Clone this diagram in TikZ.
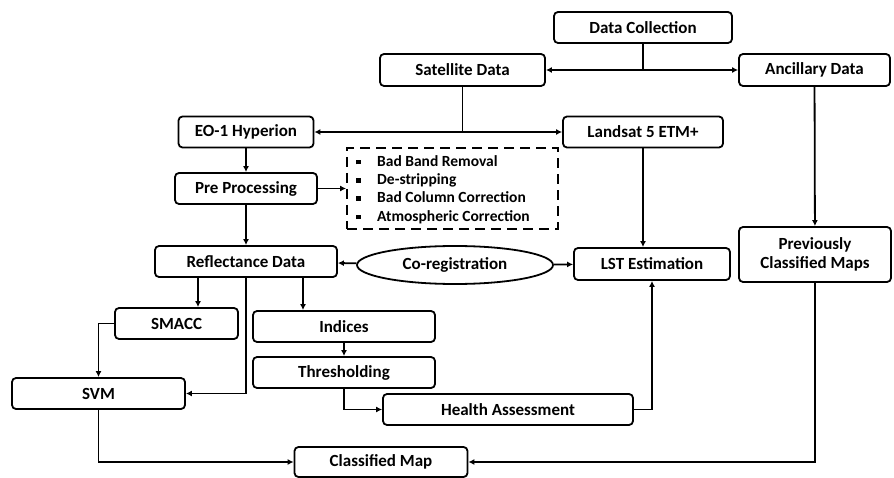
\documentclass[tikz,border=0pt]{standalone}
\usepackage{fontspec}
\setmainfont{Carlito}
\usepackage{tikz}
\usetikzlibrary{calc,positioning,arrows.meta,shapes.geometric}
\definecolor{flowline}{RGB}{0,0,0}

\begin{document}
\begin{tikzpicture}[x=1pt,y=-1pt,
    box/.style={draw=flowline,line width=1.8pt,rounded corners=4pt,inner sep=0pt,
      minimum height=31pt,font=\bfseries\fontsize{17}{19}\selectfont},
    link/.style={draw=flowline,line width=1.8pt,-{Latex[length=6pt,width=6pt]}},
    twoway/.style={link,{Latex[length=6pt,width=6pt]}-{Latex[length=6pt,width=6pt]}}]
        \useasboundingbox (0,0) rectangle (894,478);
        \node[box,minimum width=178pt] (dc) at (643,27.5) {Data Collection};
        \node[box,minimum width=165pt,minimum height=32pt] (sat) at (462.5,70) {Satellite Data};
        \node[box,minimum width=151pt,minimum height=32pt] (anc) at (814.5,70) {Ancillary Data};
        \node[box,minimum width=135pt] (eo) at (246,132) {EO-1 Hyperion};
        \node[box,minimum width=160pt] (land) at (643,132) {Landsat 5 ETM+};
        \node[box,minimum width=142pt] (pre) at (246,188.5) {Pre Processing};
        \node[draw=flowline,line width=1.8pt,dash pattern=on 10pt off 6pt,minimum width=211pt,minimum height=81pt] (steps) at (452.5,188.5) {};
        \node[anchor=west,align=left,inner sep=0pt,font=\bfseries\fontsize{15.5}{18.3}\selectfont] (steplist) at (356,189.5)
          {\makebox[21pt][l]{\raisebox{2pt}{\rule{4.5pt}{4.5pt}}}Bad Band Removal\\
           \makebox[21pt][l]{\raisebox{2pt}{\rule{4.5pt}{4.5pt}}}De-stripping\\
           \makebox[21pt][l]{\raisebox{2pt}{\rule{4.5pt}{4.5pt}}}Bad Column Correction\\
           \makebox[21pt][l]{\raisebox{2pt}{\rule{4.5pt}{4.5pt}}}Atmospheric Correction};
        \node[box,minimum width=182pt] (refl) at (246,261.5) {Reflectance Data};
        \node[draw=flowline,line width=1.8pt,ellipse,inner sep=0pt,minimum width=196pt,minimum height=38pt,
          font=\bfseries\fontsize{17}{19}\selectfont] (coreg) at (455,265) {Co-registration};
        \node[box,minimum width=156pt,minimum height=32pt] (lst) at (652,264) {LST Estimation};
        \node[box,minimum width=152pt,minimum height=55pt,align=center] (prev) at (815,254.5) {Previously\\Classified Maps};
        \node[box,minimum width=123pt] (smacc) at (176.5,323.5) {SMACC};
        \node[box,minimum width=182pt] (ind) at (344,326.5) {Indices};
        \node[box,minimum width=182pt] (thr) at (344,372.5) {Thresholding};
        \node[box,minimum width=173pt] (svm) at (98.5,393.5) {SVM};
        \node[box,minimum width=250pt] (health) at (508,409.5) {Health Assessment};
        \node[box,minimum width=173pt,minimum height=30pt] (cmap) at (381,462) {Classified Map};

        \draw[line width=1.8pt] (dc.south) -- (dc.south |- sat);
        \draw[twoway] (sat) -- (anc);
        \draw[line width=1.8pt] (sat.south) -- (sat.south |- eo);
        \draw[twoway] (eo) -- (land);
        \draw[link] (eo) -- (pre);
        \draw[link] (pre) -- (steps);
        \draw[link] (pre) -- (refl);
        \draw[link] (land) -- (land |- lst.north);
        \draw[link] (anc) -- (prev);
        \draw[link] (coreg) -- (refl);
        \draw[link] (coreg) -- (lst);
        \draw[link] ([xshift=-48pt]refl.south) -- ([xshift=-48pt]refl.south |- smacc.north);
        \draw[link] ([xshift=57pt]refl.south) -- ([xshift=57pt]refl.south |- ind.north);
        \draw[link] (refl.south) |- (svm.east);
        \draw[link] (smacc.west) -| (svm.north);
        \draw[link] (ind) -- (thr);
        \draw[link] (thr.south) |- (health.west);
        \draw[link] (health.east) -| (lst.south);
        \draw[link] (svm.south) |- (cmap.west);
        \draw[link] (prev.south) |- (cmap.east);
      \end{tikzpicture}
\end{document}
